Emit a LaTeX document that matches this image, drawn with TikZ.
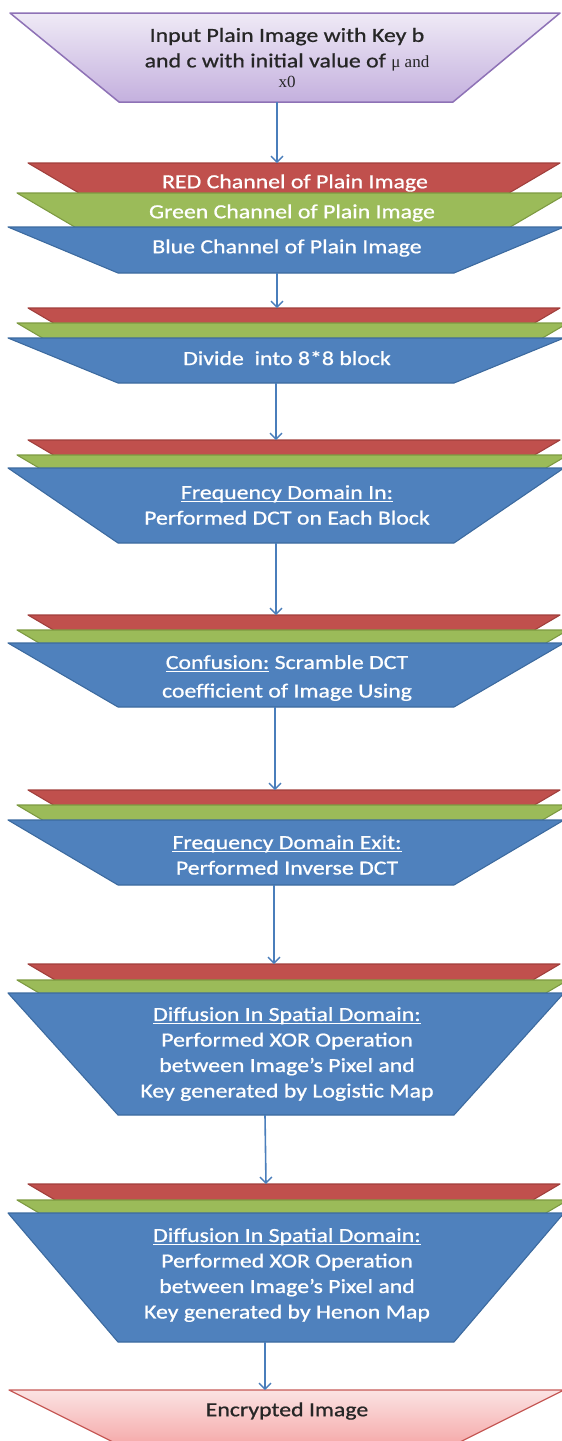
\documentclass[tikz,border=0pt]{standalone}
\usepackage{fontspec}
\setmainfont{Carlito}[FakeStretch=1.19,FakeBold=0.8]
\newfontfamily\tnr{Liberation Serif}
\usetikzlibrary{arrows.meta}
\definecolor{redF}{HTML}{C0504D}
\definecolor{redD}{HTML}{A13F3C}
\definecolor{greenF}{HTML}{9BBB59}
\definecolor{greenD}{HTML}{7D9A41}
\definecolor{blueF}{HTML}{4F81BD}
\definecolor{blueD}{HTML}{3C6A9F}
\definecolor{purT}{HTML}{EFEAF6}
\definecolor{purB}{HTML}{C4B0DE}
\definecolor{purD}{HTML}{8E72B6}
\definecolor{pinkT}{HTML}{FBE3E3}
\definecolor{pinkB}{HTML}{F5A9A9}
\definecolor{pinkD}{HTML}{C65A57}
\definecolor{arrC}{HTML}{4A7EBB}
\definecolor{darkT}{HTML}{262626}
\newcommand\stripshape[6]{%
  \fill[#5] (#3,#1) -- (#4,#1) -- ({#4-1.7*(#2-#1)},#2) -- ({#3+1.7*(#2-#1)},#2) -- cycle;
  \draw[#6,line width=1.1pt,line join=round] ({#3+1.7*(#2-#1)},#2) -- (#3,#1) -- (#4,#1) -- ({#4-1.7*(#2-#1)},#2);
}
\newcommand\bluetrap[2]{%
  \filldraw[fill=blueF,draw=blueD,line width=1.1pt,line join=round] (8,#1) -- (564,#1) -- (454,#2) -- (118,#2) -- cycle;
}
\newcommand\layergroup[4]{%
  \stripshape{#1}{#2}{28}{560}{redF}{redD}
  \stripshape{#2}{#3}{17}{568}{greenF}{greenD}
  \bluetrap{#3}{#4}
}
\newcommand\hd[1]{\setbox0\hbox{#1}\rlap{\rule[-3pt]{\wd0}{1.3pt}}\box0\relax}
\begin{document}
\begin{tikzpicture}[x=1pt,y=-1pt,
  wt/.style={text=white,font=\fontsize{20}{25.5}\selectfont,align=center,inner sep=0pt},
  dt/.style={text=darkT,font=\fontsize{20}{25.5}\selectfont,align=center,inner sep=0pt},
  arr/.style={draw=arrC,line width=1.6pt,-{Straight Barb[length=6pt,width=12pt,line width=1.4pt]}}]
\useasboundingbox (0,0) rectangle (562,1441);
\clip (0,0) rectangle (562,1441);
% input
\shade[top color=purT,bottom color=purB] (10,13) -- (560,13) -- (453,102) -- (119,102) -- cycle;
\draw[purD,line width=1.5pt,line join=round] (10,13) -- (560,13) -- (453,102) -- (119,102) -- cycle;
\node[dt] (in) at (287,58) {Input Plain Image with Key b\\and c with initial value of {\tnr\fontsize{17}{20}\selectfont μ and}\\[-5pt]{\tnr\fontsize{17}{20}\selectfont x0}};
% groups
\layergroup{163}{193}{227}{273}
\layergroup{308}{323}{338}{383}
\layergroup{440}{455}{468}{543}
\layergroup{615}{630}{643}{707}
\layergroup{790}{805}{820}{885}
\layergroup{964}{980}{993}{1115}
\layergroup{1184}{1200}{1213}{1342}
% output
\shade[top color=pinkT,bottom color=pinkB] (9,1390) -- (564,1390) -- (454,1445) -- (119,1445) -- cycle;
\draw[pinkD,line width=1.3pt,line join=round] (9,1390) -- (564,1390) -- (454,1445) -- (119,1445) -- cycle;
% texts
\node[wt] (r1) at (295,183) {RED Channel of Plain Image};
\node[wt] (g1) at (292,213) {Green Channel of Plain Image};
\node[wt] (b1) at (287,248) {Blue Channel of Plain Image};
\node[wt] (b2) at (287,358) {Divide\ \ into 8*8 block};
\node[wt] (b3) at (287,505) {\hd{Frequency Domain In:}\\Performed DCT on Each Block};
\node[wt] (b4) at (287,678) {\hd{Confusion:} Scramble DCT\\[3pt]coefficient of Image Using};
\node[wt] (b5) at (287,855) {\hd{Frequency Domain Exit:}\\Performed Inverse DCT};
\node[wt] (b6) at (287,1054) {\hd{Diffusion In Spatial Domain:}\\Performed XOR Operation\\between Image’s Pixel and\\Key generated by Logistic Map};
\node[wt] (b7) at (287,1275) {\hd{Diffusion In Spatial Domain:}\\Performed XOR Operation\\between Image’s Pixel and\\Key generated by Henon Map};
\node[dt] (out) at (287,1411) {Encrypted Image};
% arrow anchors
\coordinate (a0s) at (277,102);
\coordinate (a1e) at (277,163);
\coordinate (a1s) at (277,273);
\coordinate (a2e) at (277,308);
\coordinate (a2s) at (276,383);
\coordinate (a3e) at (276,440);
\coordinate (a3s) at (276,543);
\coordinate (a4e) at (276,615);
\coordinate (a4s) at (275,707);
\coordinate (a5e) at (275,790);
\coordinate (a5s) at (274,885);
\coordinate (a6e) at (274,964);
\coordinate (a6s) at (265,1115);
\coordinate (a7e) at (266,1184);
\coordinate (a7s) at (265,1342);
\coordinate (a8e) at (265,1390);
\draw[arr] (a0s) -- (a1e);
\draw[arr] (a1s) -- (a2e);
\draw[arr] (a2s) -- (a3e);
\draw[arr] (a3s) -- (a4e);
\draw[arr] (a4s) -- (a5e);
\draw[arr] (a5s) -- (a6e);
\draw[arr] (a6s) -- (a7e);
\draw[arr] (a7s) -- (a8e);
\end{tikzpicture}
\end{document}
